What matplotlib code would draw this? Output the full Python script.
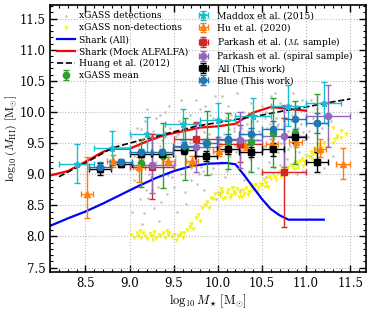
"""
HI mass vs stellar mass: xGASS, Shark and literature scaling relations
"""

import numpy as np
import matplotlib
matplotlib.use("Agg")
import matplotlib.pyplot as plt

plt.rcParams["font.family"] = "DejaVu Serif"
plt.rcParams["mathtext.fontset"] = "cm"

# xGASS detections (grey dots)
det_x = [9.02, 9.05, 9.05, 9.08, 9.10, 9.12, 9.14, 9.16, 9.18, 9.03, 9.06, 9.10, 9.15, 9.19, 9.20, 9.20,
         9.22, 9.24, 9.26, 9.28, 9.30, 9.30, 9.32, 9.34, 9.36, 9.38, 9.40, 9.40, 9.25, 9.35, 9.27, 9.33,
         9.42, 9.44, 9.46, 9.48, 9.50, 9.52, 9.54, 9.56, 9.58, 9.60, 9.45, 9.50, 9.55, 9.58, 9.47,
         9.62, 9.64, 9.66, 9.68, 9.70, 9.72, 9.74, 9.76, 9.78, 9.80, 9.65, 9.70, 9.75, 9.79,
         9.82, 9.84, 9.86, 9.88, 9.90, 9.92, 9.94, 9.96, 9.98, 10.00, 9.85, 9.90, 9.95, 9.83, 9.97,
         10.02, 10.04, 10.06, 10.08, 10.10, 10.12, 10.14, 10.16, 10.18, 10.20, 10.05, 10.10, 10.15, 10.03,
         10.22, 10.24, 10.26, 10.28, 10.30, 10.32, 10.34, 10.36, 10.38, 10.40, 10.25, 10.30, 10.35, 10.22,
         10.42, 10.44, 10.46, 10.48, 10.50, 10.52, 10.54, 10.56, 10.58, 10.60, 10.45, 10.50, 10.55, 10.43,
         10.62, 10.64, 10.66, 10.68, 10.70, 10.72, 10.74, 10.76, 10.78, 10.80, 10.65, 10.70, 10.75,
         10.82, 10.84, 10.86, 10.88, 10.90, 10.92, 10.94, 10.96, 10.98, 10.85, 10.90, 10.95,
         11.02, 11.05, 11.08, 11.10, 11.12, 11.15, 11.18, 11.20, 11.25, 11.28, 11.30, 11.35, 11.05, 11.22,
         9.60, 9.72, 9.88, 10.02, 10.18, 10.33, 10.47, 10.61, 10.77, 10.91, 9.52, 9.68, 9.91, 10.07,
         10.27, 10.39, 10.53, 10.68, 10.83, 11.00,
         9.37, 9.53, 9.69, 9.84, 9.99, 10.13, 10.29, 10.44, 10.59, 10.73, 10.88, 11.03, 9.43, 9.63,
         9.81, 10.09, 10.21, 10.37, 10.51, 10.67, 10.79, 10.97, 9.21, 9.13]
det_y = [9.60, 9.30, 8.90, 9.75, 9.45, 8.60, 8.20, 8.37, 9.85, 8.40, 9.10, 9.05, 9.25, 8.75, 9.50, 10.05,
         9.00, 8.95, 9.70, 8.45, 9.20, 9.90, 8.80, 9.45, 8.55, 9.10, 9.60, 10.00, 8.75, 9.95, 9.35, 8.25,
         8.68, 9.30, 9.75, 8.95, 9.50, 9.15, 8.39, 9.85, 9.00, 9.40, 10.10, 8.80, 9.65, 10.20, 9.20,
         9.70, 8.52, 9.20, 9.95, 8.90, 9.45, 9.60, 8.85, 9.30, 10.05, 9.35, 9.10, 10.20, 9.00,
         9.55, 8.75, 9.80, 9.20, 9.65, 9.00, 9.90, 9.35, 8.60, 9.75, 10.10, 9.40, 9.10, 9.05, 10.25,
         9.50, 9.20, 9.85, 8.95, 9.60, 10.10, 9.30, 8.80, 9.70, 9.45, 10.25, 9.05, 9.95, 8.70,
         9.80, 9.15, 9.55, 10.00, 8.90, 9.40, 9.70, 9.25, 10.15, 9.60, 8.75, 9.90, 9.05, 10.30,
         9.35, 9.85, 9.10, 9.65, 10.10, 9.45, 8.95, 9.75, 9.20, 10.25, 9.55, 9.00, 10.00, 8.85,
         9.60, 9.10, 9.90, 9.35, 10.15, 9.50, 9.00, 9.80, 9.25, 9.70, 10.30, 9.15, 10.00,
         9.45, 9.95, 9.20, 9.65, 10.10, 9.35, 9.80, 9.05, 9.55, 10.30, 9.00, 10.20,
         9.60, 9.30, 9.90, 9.15, 10.05, 9.50, 9.75, 9.10, 9.45, 9.85, 9.30, 9.60, 10.20, 10.15,
         9.55, 9.80, 9.60, 9.85, 9.75, 9.80, 9.70, 9.85, 9.90, 9.75, 9.30, 9.55, 9.95, 9.65,
         9.75, 9.85, 9.90, 9.80, 9.85, 9.90,
         9.55, 9.62, 9.50, 9.68, 9.58, 9.72, 9.64, 9.55, 9.80, 9.62, 9.48, 9.70, 8.98, 8.72,
         9.12, 9.90, 9.35, 9.50, 9.62, 9.78, 9.40, 9.68, 8.62, 9.72]

# xGASS non-detections (yellow upper limits)
nd_x = [9.02, 9.05, 9.08, 9.10, 9.13, 9.15, 9.18, 9.20, 9.23, 9.25, 9.28, 9.30, 9.33, 9.35, 9.38, 9.40,
        9.43, 9.45, 9.48, 9.50, 9.53, 9.55, 9.58, 9.60,
        9.62, 9.65, 9.68, 9.70, 9.72, 9.75, 9.78, 9.80, 9.82, 9.85, 9.88, 9.90, 9.92, 9.95, 9.97, 10.00,
        10.02, 10.05, 10.08, 10.10, 10.12, 10.15, 10.18, 10.20, 10.22, 10.25, 10.28, 10.30, 10.32, 10.35,
        10.38, 10.40, 10.42, 10.45,
        10.48, 10.50, 10.52, 10.55, 10.58, 10.60, 10.62, 10.65, 10.68, 10.70, 10.73, 10.75, 10.78, 10.80,
        10.83, 10.85, 10.88, 10.90, 10.93, 10.95, 10.98, 11.00, 11.03, 11.05, 11.08, 11.10, 11.13, 11.15,
        11.18, 11.20, 11.25, 11.30, 11.35, 11.40, 11.45, 11.30, 11.40,
        10.06, 10.14, 10.24, 10.34, 10.44, 10.57, 10.66, 10.77, 10.87, 10.97, 11.07, 11.17,
        9.12, 9.27, 9.42, 9.57, 10.04, 10.17, 10.27, 10.37, 10.53, 10.71, 10.91, 11.11, 11.33]
nd_y = [8.02, 7.97, 8.05, 8.00, 7.98, 8.06, 8.01, 7.96, 8.04, 8.00, 8.07, 7.98, 8.03, 8.00, 8.05, 7.97,
        8.02, 8.06, 7.99, 8.03, 7.95, 8.00, 8.05, 7.98,
        8.05, 8.10, 8.15, 8.20, 8.12, 8.30, 8.35, 8.25, 8.45, 8.50, 8.55, 8.45, 8.62, 8.60, 8.68, 8.70,
        8.65, 8.72, 8.62, 8.70, 8.75, 8.66, 8.72, 8.68, 8.76, 8.70, 8.74, 8.68, 8.78, 8.72,
        8.80, 8.75, 8.82, 8.78,
        8.85, 8.82, 8.90, 8.86, 8.95, 8.92, 9.00, 8.96, 9.02, 9.05, 9.00, 9.10, 9.08, 9.12,
        9.15, 9.10, 9.20, 9.18, 9.22, 9.25, 9.20, 9.30, 9.28, 9.35, 9.32, 9.40, 9.38, 9.45,
        9.42, 9.50, 9.55, 9.50, 9.62, 9.58, 9.65, 9.75, 9.70,
        8.60, 8.62, 8.64, 8.66, 8.72, 8.80, 8.90, 9.00, 9.08, 9.14, 9.24, 9.34,
        8.08, 7.94, 8.09, 8.02, 8.76, 8.78, 8.64, 8.82, 8.80, 8.96, 9.12, 9.32, 9.56]

# Shark model medians
shark_all_x = [8.1, 8.3, 8.5, 8.7, 8.9, 9.1, 9.3, 9.5, 9.7, 9.9, 10.1, 10.2, 10.3, 10.4, 10.5, 10.6,
               10.7, 10.8, 10.9, 11.0, 11.1, 11.2]
shark_all_y = [8.17, 8.29, 8.40, 8.53, 8.67, 8.81, 8.94, 9.05, 9.13, 9.17, 9.18, 9.16, 8.98, 8.79, 8.60,
               8.44, 8.34, 8.27, 8.27, 8.27, 8.27, 8.27]
shark_mock_x = [8.1, 8.3, 8.5, 8.7, 8.8, 9.0, 9.2, 9.4, 9.6, 9.8, 10.0, 10.2, 10.4, 10.6, 10.8, 11.0]
shark_mock_y = [8.98, 9.05, 9.20, 9.36, 9.41, 9.41, 9.53, 9.63, 9.69, 9.75, 9.77, 9.81, 9.99, 10.08,
                10.05, 10.02]

# Huang et al. (2012)
huang_x = [8.2, 8.5, 8.8, 9.0, 9.25, 9.5, 9.75, 10.0, 10.25, 10.5, 10.75, 11.0, 11.25, 11.5]
huang_y = [8.96, 9.18, 9.42, 9.50, 9.59, 9.68, 9.77, 9.83, 9.89, 9.95, 10.02, 10.08, 10.15, 10.21]

# xGASS mean
xg_x = [9.13, 9.38, 9.63, 9.88, 10.12, 10.37, 10.62, 10.87, 11.12]
xg_y = [9.18, 9.30, 9.41, 9.50, 9.54, 9.51, 9.67, 9.67, 9.82]
xg_err = [0.38, 0.52, 0.50, 0.52, 0.45, 0.48, 0.55, 0.50, 0.47]

# Maddox et al. (2015)
mad_x = [8.4, 8.8, 9.2, 9.6, 10.0, 10.4, 10.8, 11.2]
mad_y = [9.17, 9.42, 9.64, 9.80, 9.87, 9.93, 10.10, 10.15]
mad_xerr = [0.2, 0.2, 0.2, 0.2, 0.2, 0.2, 0.2, 0.2]
mad_yerr = [0.31, 0.27, 0.28, 0.25, 0.27, 0.30, 0.33, 0.33]

# Hu et al. (2020)
hu_x = [8.52, 8.81, 9.11, 9.44, 9.71, 10.01, 10.31, 10.61, 10.88, 11.16, 11.42]
hu_y = [8.68, 9.21, 9.11, 9.21, 9.22, 9.38, 9.47, 9.49, 9.51, 9.40, 9.16]
hu_xerr = [0.07, 0.07, 0.07, 0.07, 0.07, 0.07, 0.07, 0.07, 0.07, 0.07, 0.08]
hu_ylo = [0.38, 0.10, 0.24, 0.06, 0.08, 0.08, 0.08, 0.08, 0.08, 0.12, 0.24]
hu_yhi = [0.60, 0.10, 0.16, 0.06, 0.08, 0.08, 0.08, 0.08, 0.08, 0.16, 0.26]

# Parkash et al. (M* sample)
pm_x = [9.25, 9.75, 10.25, 10.75]
pm_y = [9.12, 9.57, 9.49, 9.03]
pm_xerr = [0.25, 0.25, 0.25, 0.25]
pm_yerr = [0.52, 0.27, 0.30, 0.88]

# Parkash et al. (spiral sample)
ps_x = [9.25, 9.75, 10.25, 10.75, 11.25]
ps_y = [9.15, 9.43, 9.55, 9.62, 9.94]
ps_xerr = [0.25, 0.25, 0.25, 0.25, 0.25]
ps_yerr = [0.45, 0.40, 0.45, 0.50, 0.50]

# This work
all_x = [8.66, 8.90, 9.13, 9.37, 9.62, 9.87, 10.12, 10.37, 10.62, 10.87, 11.12]
all_y = [9.08, 9.17, 9.32, 9.32, 9.39, 9.30, 9.40, 9.35, 9.40, 9.59, 9.19]
all_yerr = [0.10, 0.06, 0.05, 0.05, 0.06, 0.08, 0.08, 0.08, 0.10, 0.09, 0.16]
blue_x = all_x
blue_y = [9.11, 9.19, 9.35, 9.35, 9.46, 9.50, 9.57, 9.65, 9.73, 9.89, 9.83]
blue_yerr = [0.08, 0.05, 0.05, 0.05, 0.06, 0.07, 0.08, 0.09, 0.12, 0.17, 0.16]
bin_half = [0.125] * len(all_x)


def plot():
    fig = plt.figure(figsize=(3.74, 3.09), dpi=100)
    ax = fig.add_axes([0.134, 0.12, 0.845, 0.864])

    ax.scatter(det_x, det_y, s=3.5, color="#b5b5b5", alpha=0.8, lw=0,
               label="xGASS detections", zorder=1)
    ax.scatter(nd_x, nd_y, s=10, marker="v", color="#f5f50a", lw=0,
               label="xGASS non-detections", zorder=1.5)

    ax.plot(shark_all_x, shark_all_y, color="blue", lw=1.6, label="Shark (All)", zorder=2)
    ax.plot(shark_mock_x, shark_mock_y, color="red", lw=1.6, label="Shark (Mock ALFALFA)", zorder=2)
    ax.plot(huang_x, huang_y, color="k", ls="--", lw=1.2, label="Huang et al. (2012)", zorder=2)

    eb = dict(capsize=2, elinewidth=1, capthick=1, markersize=4.5, ls="none", zorder=3)
    ax.errorbar(xg_x, xg_y, yerr=xg_err, fmt="o", color="#2ca02c", label="xGASS mean", **eb)
    ax.errorbar(mad_x, mad_y, xerr=mad_xerr, yerr=mad_yerr, fmt="*", color="#17becf",
                label="Maddox et al. (2015)", **eb)
    ax.errorbar(hu_x, hu_y, xerr=hu_xerr, yerr=[hu_ylo, hu_yhi], fmt="^", color="#ff7f0e",
                label="Hu et al. (2020)", **eb)
    ax.errorbar(pm_x, pm_y, xerr=pm_xerr, yerr=pm_yerr, fmt="s", color="#d62728",
                label=r"Parkash et al. ($M_{*}$ sample)", **eb)
    ax.errorbar(ps_x, ps_y, xerr=ps_xerr, yerr=ps_yerr, fmt="o", color="#9467bd",
                label="Parkash et al. (spiral sample)", **eb)
    ax.errorbar(all_x, all_y, xerr=bin_half, yerr=all_yerr, fmt="s", color="k",
                label="All (This work)", **eb)
    ax.errorbar(blue_x, blue_y, xerr=bin_half, yerr=blue_yerr, fmt="o", color="#1f77b4",
                label="Blue (This work)", **eb)

    ax.set_xlim(8.1, 11.68)
    ax.set_ylim(7.43, 11.72)
    ax.set_xticks([8.5, 9.0, 9.5, 10.0, 10.5, 11.0, 11.5])
    ax.set_yticks([7.5, 8.0, 8.5, 9.0, 9.5, 10.0, 10.5, 11.0, 11.5])
    ax.minorticks_on()
    ax.tick_params(which="both", direction="in", top=True, right=True, labelsize=8.5)
    ax.tick_params(which="major", length=5, width=1)
    ax.tick_params(which="minor", length=2.5, width=0.8)
    for sp in ax.spines.values():
        sp.set_linewidth(1.2)
    ax.grid(True, which="major", ls=":", color="#bbbbbb", lw=0.8)

    ax.set_xlabel(r"$\log_{10}M_{\star}\ [\mathrm{M}_{\odot}]$", fontsize=9, labelpad=2)
    ax.set_ylabel(r"$\log_{10}(M_{\rm HI})\ [\mathrm{M}_{\odot}]$", fontsize=8.6)
    ax.yaxis.set_label_coords(-0.098, 0.5)

    ax.legend(loc="upper left", ncol=2, frameon=False, fontsize=6.6, handlelength=2.0,
              columnspacing=0.6, labelspacing=0.32, handletextpad=0.5,
              borderaxespad=0.3, markerscale=1.0)

    fig.savefig("out.png", dpi=100)
    plt.close(fig)


if __name__ == "__main__":
    plot()
